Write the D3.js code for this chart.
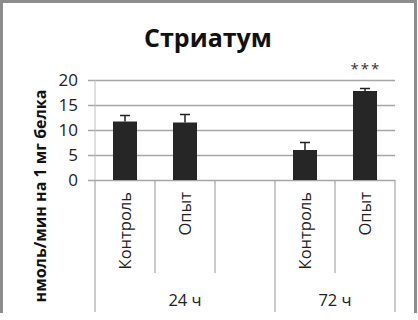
<!DOCTYPE html>
<html>
<head>
<meta charset="utf-8">
<script src="https://cdn.jsdelivr.net/npm/d3@7"></script>
<style>
  body { margin: 0; background: #fff; }
  text { font-family: "Open Sans", "Noto Sans", sans-serif; }
</style>
</head>
<body>
<div id="chart-area"></div>
<script>
// data
const groups = ['24 ч', '72 ч'];
const categories = ['Контроль', 'Опыт', '', 'Контроль', 'Опыт'];
const groupIndex = [0, 0, 0, 1, 1];
const values = [11.7, 11.5, null, 6.0, 17.8];
const errors = [1.2, 1.6, null, 1.5, 0.5];
const signif = ['', '', '', '', '***'];
const yTicks = [0, 5, 10, 15, 20];

const W = 418, H = 320;
const plot = { left: 95, right: 395, top: 80, bottom: 180 };

const svg = d3.select('#chart-area')
    .append('svg')
        .attr('width', W)
        .attr('height', H);

// frame (cropped at the bottom)
svg.append('path')
    .attr('d', `M1.5,313 V1.5 H415.5 V313`)
    .attr('fill', 'none')
    .attr('stroke', '#8c8c8c')
    .attr('stroke-width', 3);

// title
svg.append('text')
    .attr('x', 208)
    .attr('y', 47)
    .attr('text-anchor', 'middle')
    .attr('font-size', '25px')
    .attr('font-weight', 'bold')
    .attr('fill', '#111')
    .text('Стриатум');

// y label
svg.append('text')
    .attr('transform', 'translate(46, 196) rotate(-90)')
    .attr('text-anchor', 'middle')
    .attr('font-size', '16px')
    .attr('font-weight', 'bold')
    .attr('fill', '#111')
    .text('нмоль/мин на 1 мг белка');

const idx = categories.map((c, i) => i);

const x = d3.scaleBand()
    .domain(idx)
    .range([plot.left, plot.right])
    .paddingInner(0.6)
    .paddingOuter(0.3);

const y = d3.scaleLinear()
    .domain([0, 20])
    .range([plot.bottom, plot.top]);

// gridlines + tick labels
const yAxisCall = d3.axisLeft(y)
    .tickValues(yTicks)
    .tickSize(-(plot.right - plot.left) - 7)
    .tickPadding(10)
    .tickFormat(d => d);
const ya = svg.append('g')
    .attr('transform', `translate(${plot.left - 7}, 0)`)
    .call(yAxisCall);
ya.select('.domain').remove();
ya.selectAll('.tick line')
    .attr('stroke', '#a6a6a6')
    .attr('stroke-width', 1.5);
ya.selectAll('.tick text')
    .attr('font-size', '17px')
    .attr('font-family', '"Open Sans", sans-serif')
    .attr('fill', '#222')
    .attr('dy', '0.35em');

// y axis line
svg.append('line')
    .attr('x1', plot.left).attr('x2', plot.left)
    .attr('y1', plot.top).attr('y2', plot.bottom)
    .attr('stroke', '#bfbfbf');

// category separators
const step = x.step();
d3.range(categories.length + 1).forEach(i => {
    const isGroupEdge = i === 0 || i === categories.length || groupIndex[i] !== groupIndex[i - 1];
    svg.append('line')
        .attr('x1', plot.left + i * step).attr('x2', plot.left + i * step)
        .attr('y1', plot.bottom)
        .attr('y2', isGroupEdge ? 312 : 273)
        .attr('stroke', '#a6a6a6')
        .attr('stroke-width', 1.2);
});

// category labels
svg.selectAll('.cat')
    .data(idx.filter(i => categories[i]))
    .enter()
    .append('text')
        .attr('class', 'cat')
        .attr('transform', i => `translate(${x(i) + x.bandwidth() / 2 + 6}, 192) rotate(-90)`)
        .attr('text-anchor', 'end')
        .attr('font-size', '16.5px')
        .attr('fill', '#222')
        .text(i => categories[i]);

// group labels
groups.forEach((g, gi) => {
    const members = idx.filter(i => groupIndex[i] === gi);
    const x0 = plot.left + d3.min(members) * step;
    const x1 = plot.left + (d3.max(members) + 1) * step;
    svg.append('text')
        .attr('x', (x0 + x1) / 2)
        .attr('y', 306)
        .attr('text-anchor', 'middle')
        .attr('font-size', '16.5px')
        .attr('fill', '#222')
        .text(g);
});

const data = idx.filter(i => values[i] !== null);

// bars
svg.selectAll('.bar')
    .data(data)
    .enter()
    .append('rect')
        .attr('class', 'bar')
        .attr('x', i => x(i))
        .attr('y', i => y(values[i]))
        .attr('width', x.bandwidth())
        .attr('height', i => plot.bottom - y(values[i]))
        .attr('fill', '#262626');

// error bars
const eb = svg.selectAll('.err')
    .data(data)
    .enter()
    .append('g')
        .attr('class', 'err')
        .attr('stroke', '#222')
        .attr('stroke-width', 1.5);
eb.append('line')
    .attr('x1', i => x(i) + x.bandwidth() / 2)
    .attr('x2', i => x(i) + x.bandwidth() / 2)
    .attr('y1', i => y(values[i]))
    .attr('y2', i => y(values[i] + errors[i]));
eb.append('line')
    .attr('x1', i => x(i) + x.bandwidth() / 2 - 5)
    .attr('x2', i => x(i) + x.bandwidth() / 2 + 5)
    .attr('y1', i => y(values[i] + errors[i]))
    .attr('y2', i => y(values[i] + errors[i]));

// significance marks
svg.selectAll('.sig')
    .data(data.filter(i => signif[i]))
    .enter()
    .append('text')
        .attr('class', 'sig')
        .attr('x', i => x(i) + x.bandwidth() / 2 + 1)
        .attr('y', 74)
        .attr('text-anchor', 'middle')
        .attr('font-size', '15px')
        .attr('letter-spacing', '2px')
        .attr('fill', '#333')
        .text(i => signif[i]);
</script>
</body>
</html>
